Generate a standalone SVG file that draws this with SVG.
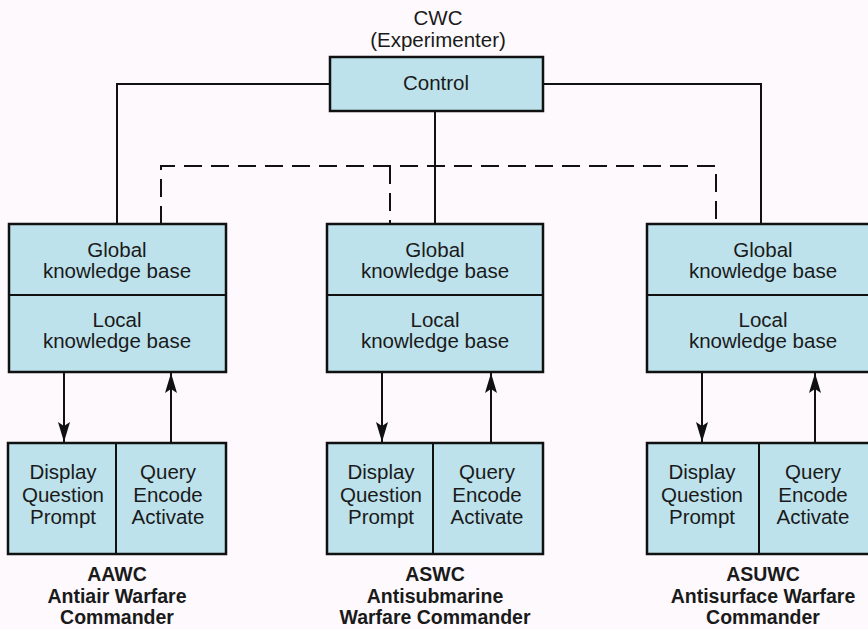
<svg xmlns="http://www.w3.org/2000/svg" width="868" height="629" viewBox="0 0 868 629">
  <defs>
    <style>
      .box { fill: #bde2ec; stroke: #111; stroke-width: 2.5; }
      .div { stroke: #111; stroke-width: 2; fill: none; }
      .t { font-family: "Liberation Sans", Arial, sans-serif; font-size: 20.5px; fill: #1a1a1a; text-anchor: middle; }
      .b { font-family: "Liberation Sans", Arial, sans-serif; font-size: 19.5px; font-weight: bold; fill: #1a1a1a; text-anchor: middle; }
      .solid { stroke: #111; stroke-width: 2; fill: none; }
      .dash { stroke: #111; stroke-width: 2; fill: none; stroke-dasharray: 18 9; }
      .arrow { stroke: #111; stroke-width: 2; fill: none; marker-end: url(#head); }
    </style>
    <marker id="head" viewBox="0 0 20 12" refX="20" refY="6" markerWidth="20" markerHeight="12" markerUnits="userSpaceOnUse" orient="auto">
      <path d="M0,0 L20,6 L0,12 L4,6 Z" fill="#111"/>
    </marker>
  </defs>
  <rect width="868" height="629" fill="#fdf9fd"/>

  <!-- connectors -->
  <g id="connectors">
    <path class="solid" d="M330,84 H117 V224"/>
    <path class="solid" d="M543,84 H761 V224"/>
    <path class="solid" d="M435,111 V224"/>
    <path class="dash" d="M161,224 V166 H716 V224"/>
    <path class="dash" d="M390,166 V224"/>
    <path class="arrow" d="M64,372 V442"/>
    <path class="arrow" d="M171,443 V373"/>
    <path class="arrow" d="M382,372 V442"/>
    <path class="arrow" d="M491,443 V373"/>
    <path class="arrow" d="M702,372 V442"/>
    <path class="arrow" d="M815,443 V373"/>
  </g>

  <!-- CWC control -->
  <g id="cwc">
    <text class="t" x="438" y="25">CWC</text>
    <text class="t" x="438" y="47">(Experimenter)</text>
    <rect class="box" x="330" y="57" width="213" height="54" stroke-width="3"/>
    <text class="t" x="436" y="90">Control</text>
  </g>

  <!-- AAWC -->
  <g id="aawc-kb">
    <rect class="box" x="9" y="224" width="217" height="148"/>
    <line class="div" x1="9" y1="295" x2="226" y2="295"/>
    <text class="t" x="117" y="257">Global</text>
    <text class="t" x="117" y="278">knowledge base</text>
    <text class="t" x="117" y="327">Local</text>
    <text class="t" x="117" y="348">knowledge base</text>
  </g>
  <g id="aawc-io">
    <rect class="box" x="8" y="443" width="218" height="111"/>
    <line class="div" x1="116" y1="443" x2="116" y2="554"/>
    <text class="t" x="63" y="479">Display</text>
    <text class="t" x="63" y="502">Question</text>
    <text class="t" x="63" y="524">Prompt</text>
    <text class="t" x="168" y="479">Query</text>
    <text class="t" x="168" y="502">Encode</text>
    <text class="t" x="168" y="524">Activate</text>
    <text class="b" x="117" y="581">AAWC</text>
    <text class="b" x="117" y="603">Antiair Warfare</text>
    <text class="b" x="117" y="624">Commander</text>
  </g>

  <!-- ASWC -->
  <g id="aswc-kb">
    <rect class="box" x="327" y="224" width="216" height="148"/>
    <line class="div" x1="327" y1="295" x2="543" y2="295"/>
    <text class="t" x="435" y="257">Global</text>
    <text class="t" x="435" y="278">knowledge base</text>
    <text class="t" x="435" y="327">Local</text>
    <text class="t" x="435" y="348">knowledge base</text>
  </g>
  <g id="aswc-io">
    <rect class="box" x="327" y="443" width="216" height="111"/>
    <line class="div" x1="433" y1="443" x2="433" y2="554"/>
    <text class="t" x="381" y="479">Display</text>
    <text class="t" x="381" y="502">Question</text>
    <text class="t" x="381" y="524">Prompt</text>
    <text class="t" x="487" y="479">Query</text>
    <text class="t" x="487" y="502">Encode</text>
    <text class="t" x="487" y="524">Activate</text>
    <text class="b" x="435" y="581">ASWC</text>
    <text class="b" x="435" y="603">Antisubmarine</text>
    <text class="b" x="435" y="624">Warfare Commander</text>
  </g>

  <!-- ASUWC -->
  <g id="asuwc-kb">
    <rect class="box" x="647" y="224" width="226" height="148"/>
    <line class="div" x1="647" y1="295" x2="870" y2="295"/>
    <text class="t" x="763" y="257">Global</text>
    <text class="t" x="763" y="278">knowledge base</text>
    <text class="t" x="763" y="327">Local</text>
    <text class="t" x="763" y="348">knowledge base</text>
  </g>
  <g id="asuwc-io">
    <rect class="box" x="647" y="443" width="226" height="111"/>
    <line class="div" x1="759" y1="443" x2="759" y2="554"/>
    <text class="t" x="702" y="479">Display</text>
    <text class="t" x="702" y="502">Question</text>
    <text class="t" x="702" y="524">Prompt</text>
    <text class="t" x="813" y="479">Query</text>
    <text class="t" x="813" y="502">Encode</text>
    <text class="t" x="813" y="524">Activate</text>
    <text class="b" x="763" y="581">ASUWC</text>
    <text class="b" x="763" y="603">Antisurface Warfare</text>
    <text class="b" x="763" y="624">Commander</text>
  </g>
</svg>
